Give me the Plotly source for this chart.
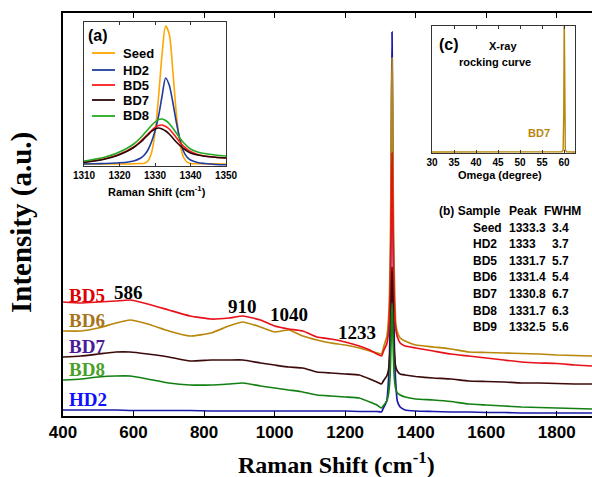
import plotly.graph_objects as go

# ---------------- data ----------------
raman_shift = [400, 450, 500, 550, 590, 640, 700, 760, 820, 870, 910, 960, 1000, 1040, 1080,
               1120, 1160, 1200, 1240, 1270, 1290,
               1303, 1310, 1318, 1323, 1326, 1328, 1330, 1331.5, 1333, 1334.5, 1336, 1338, 1340,
               1343, 1348, 1356, 1370,
               1400, 1450, 1500, 1550, 1600, 1650, 1700, 1750, 1800, 1850, 1900]

hd2 = [6, 6, 6, 6, 5.5, 5.5, 5.5, 5.5, 5, 5, 5, 5, 5, 5, 5, 5, 5, 5, 4.5, 4.5, 4.5,
       4, 9, 15, 36, 63, 105, 194, 308, 384, 308, 194, 105, 63, 36, 15, 9, 6,
       5, 4.5, 4, 4, 3.5, 3.5, 3, 3, 3, 3, 3]
bd6 = [85, 85, 88, 93, 96, 92, 85, 80, 83, 90, 94, 89, 84, 86, 80, 76, 73, 71, 68, 65, 63,
       62, 70, 79, 97, 124, 163, 234, 313, 358, 314, 237, 167, 130, 95, 84, 78, 75,
       71, 69, 67, 64, 63.5, 63, 62.5, 62, 61, 60.5, 60]
bd5 = [114, 113, 114, 115, 116, 112, 106, 100, 97, 98, 100, 96, 90, 87, 85, 79, 77, 74, 70, 66, 62,
       60, 66, 72, 84, 103, 130, 178, 232, 263, 233, 181, 134, 106, 88, 79, 73, 70,
       68, 65, 62, 60, 58, 56, 54, 53, 52.5, 51, 50]
bd7 = [59, 60, 62, 64, 64, 62, 59, 55, 56, 56, 56, 53, 51, 49, 48, 44, 43, 42, 41, 37, 34,
       32, 36, 40, 46, 58, 72, 100, 131, 149, 131, 102, 74, 61, 50, 45, 42, 41,
       39.5, 38, 37, 35, 34.5, 34, 33, 33, 32.5, 32, 32]
bd8 = [36, 37, 39, 40, 40, 37, 33, 31, 31, 32, 33, 30, 28, 26, 24, 21, 20, 19, 18, 14, 11,
       8, 11, 15, 22, 32, 45, 71, 98, 113, 99, 73, 48, 36, 28, 23, 21, 19,
       17, 16, 14.5, 12, 11, 10, 9, 8.5, 8, 7.5, 7]

main_names = ["HD2", "BD6", "BD5", "BD7", "BD8"]
main_series = [hd2, bd6, bd5, bd7, bd8]
main_colors = ["#1a1aa8", "#b8860b", "#e8101a", "#3c0a0a", "#138013"]

side_labels = ["BD5", "BD6", "BD7", "BD8", "HD2"]
side_label_colors = ["#e00000", "#a8741a", "#4b1c99", "#4aa02a", "#1010ff"]
peak_labels = [586, 910, 1040, 1233]

# inset (a)
inset_shift = [1310, 1313, 1316, 1319, 1322, 1324, 1326, 1327, 1328, 1329, 1330, 1331, 1332,
               1333, 1334, 1335, 1336, 1337, 1338, 1339, 1340, 1342, 1344, 1347, 1350]
seed_a = [2, 2, 2, 2, 2, 2.2, 2.5, 2.8, 5, 13, 33, 69, 112, 140, 132, 96, 53, 23, 9, 4, 2.5,
          2.3, 2.2, 2.1, 2]
hd2_a = [2, 2.2, 2.5, 3, 3.8, 5, 8, 11, 16, 24, 35, 50, 70, 88, 81, 64, 44, 27, 15, 9, 6,
         3.5, 2.5, 1.5, 1.2]
bd5_a = [4, 5.5, 7.5, 10.5, 15, 19, 25, 28.5, 32, 35.5, 38.5, 40.5, 41, 39.5, 37, 33, 28.5,
         24, 20, 17, 14.5, 11.5, 10, 8.8, 8]
bd7_a = [3.5, 5, 7, 10, 14.5, 18.5, 24, 27.5, 31, 34.5, 37, 38, 37, 35, 32, 28, 24, 20.5,
         17.5, 15, 13, 11, 9.8, 8.7, 8]
bd8_a = [5, 6.8, 9, 12.5, 17.5, 22, 28.5, 32.5, 36.5, 40.5, 44, 46.5, 47, 45.5, 42.5, 38, 33,
         28, 23.5, 20, 17, 14, 12.5, 11, 10]
inset_names = ["Seed", "HD2", "BD5", "BD7", "BD8"]
inset_series = [seed_a, hd2_a, bd5_a, bd7_a, bd8_a]
inset_colors = ["#ffa500", "#1f3d9e", "#ff1a1a", "#2b0808", "#22aa22"]
inset_ticks = [1310, 1320, 1330, 1340, 1350]

# inset (c)
omega = [30, 35, 40, 45, 50, 55, 59.5, 59.8, 59.95, 60.05, 60.15, 60.3, 60.6, 62.5]
rocking_bd7 = [1, 1, 1, 1, 1, 1, 1.2, 3, 40, 140, 40, 3, 1.2, 1]
omega_ticks = [30, 35, 40, 45, 50, 55, 60]

# table (b)
table_samples = ["Seed", "HD2", "BD5", "BD6", "BD7", "BD8", "BD9"]
table_peak = ["1333.3", "1333", "1331.7", "1331.4", "1330.8", "1331.7", "1332.5"]
table_fwhm = ["3.4", "3.7", "5.7", "5.4", "6.7", "6.3", "5.6"]

# ---------------- layout helpers ----------------
W, H = 592, 477
L, R, T, B = 63, 0, 13, 61
PW, PH = W - L - R, H - T - B


def px(xp):
    return (xp - L) / PW


def py(yp):
    return (H - B - yp) / PH


SANS = "Liberation Sans, Arial, sans-serif"
SERIF = "Liberation Serif, Times New Roman, serif"

fig = go.Figure()

for name, ys, col in zip(main_names, main_series, main_colors):
    fig.add_trace(go.Scatter(x=raman_shift, y=ys, mode="lines", name=name,
                             line=dict(color=col, width=1.7, shape="spline", smoothing=0.4),
                             showlegend=False, xaxis="x", yaxis="y"))

for name, ys, col in zip(inset_names, inset_series, inset_colors):
    fig.add_trace(go.Scatter(x=inset_shift, y=ys, mode="lines", name=name,
                             line=dict(color=col, width=1.6, shape="spline", smoothing=0.8),
                             showlegend=False, xaxis="x2", yaxis="y2"))

fig.add_trace(go.Scatter(x=omega, y=rocking_bd7, mode="lines", name="BD7",
                         line=dict(color="#b8860b", width=1.4),
                         showlegend=False, xaxis="x3", yaxis="y3"))

annotations = []
shapes = []

# left side sample labels
side_y = [295, 320, 346, 369, 399]
for txt, col, yp in zip(side_labels, side_label_colors, side_y):
    annotations.append(dict(text=txt, xref="paper", yref="paper", x=px(67), y=py(yp),
                            xanchor="left", yanchor="middle", showarrow=False,
                            font=dict(family=SERIF, size=19, color=col, weight="bold")))

# peak labels
peak_y = [292, 306, 314, 332]
for val, yp in zip(peak_labels, peak_y):
    annotations.append(dict(text=str(val), xref="x", yref="paper", x=val, y=py(yp),
                            xanchor="center", yanchor="middle", showarrow=False,
                            font=dict(family=SERIF, size=19, color="black", weight="bold")))

# axis titles
annotations.append(dict(text="Raman Shift (cm<sup>-1</sup>)", xref="paper", yref="paper",
                        x=px(336), y=py(463), xanchor="center", yanchor="middle",
                        showarrow=False,
                        font=dict(family=SERIF, size=24, color="black", weight="bold")))
annotations.append(dict(text="Intensity (a.u.)", xref="paper", yref="paper",
                        x=px(21), y=py(223), xanchor="center", yanchor="middle",
                        textangle=-90, showarrow=False,
                        font=dict(family=SERIF, size=29, color="black", weight="bold")))

# inset (a) texts and legend
annotations.append(dict(text="(a)", xref="paper", yref="paper", x=px(86), y=py(36),
                        xanchor="left", yanchor="middle", showarrow=False,
                        font=dict(family=SANS, size=16, color="black", weight="bold")))
leg_y = [53, 70, 85, 100, 116]
for name, col, yp in zip(inset_names, inset_colors, leg_y):
    shapes.append(dict(type="line", xref="paper", yref="paper", x0=px(92), x1=px(115),
                       y0=py(yp), y1=py(yp), line=dict(color=col, width=1.8)))
    annotations.append(dict(text=name, xref="paper", yref="paper", x=px(121), y=py(yp),
                            xanchor="left", yanchor="middle", showarrow=False,
                            font=dict(family=SANS, size=13, color="black", weight="bold")))
annotations.append(dict(text="Raman Shift (cm<sup>-1</sup>)", xref="paper", yref="paper",
                        x=px(157), y=py(191), xanchor="center", yanchor="middle",
                        showarrow=False,
                        font=dict(family=SANS, size=11, color="black", weight="bold")))

# inset (c) texts
annotations.append(dict(text="(c)", xref="paper", yref="paper", x=px(437), y=py(45),
                        xanchor="left", yanchor="middle", showarrow=False,
                        font=dict(family=SANS, size=16, color="black", weight="bold")))
annotations.append(dict(text="X-ray", xref="paper", yref="paper", x=px(503), y=py(46),
                        xanchor="center", yanchor="middle", showarrow=False,
                        font=dict(family=SANS, size=11, color="black", weight="bold")))
annotations.append(dict(text="rocking curve", xref="paper", yref="paper", x=px(495), y=py(62),
                        xanchor="center", yanchor="middle", showarrow=False,
                        font=dict(family=SANS, size=11, color="black", weight="bold")))
annotations.append(dict(text="BD7", xref="paper", yref="paper", x=px(539), y=py(133),
                        xanchor="center", yanchor="middle", showarrow=False,
                        font=dict(family=SANS, size=11, color="#b8860b", weight="bold")))
annotations.append(dict(text="Omega (degree)", xref="paper", yref="paper", x=px(500), y=py(175),
                        xanchor="center", yanchor="middle", showarrow=False,
                        font=dict(family=SANS, size=11, color="black", weight="bold")))

# table (b)
tfont = dict(family=SANS, size=12, color="black", weight="bold")
for txt, xp in [("(b) Sample", 437), ("Peak", 507), ("FWHM", 542)]:
    annotations.append(dict(text=txt, xref="paper", yref="paper", x=px(xp), y=py(211),
                            xanchor="left", yanchor="middle", showarrow=False, font=tfont))
row_y0, row_dy = 227.5, 16.6
for i, (s, p, f) in enumerate(zip(table_samples, table_peak, table_fwhm)):
    yp = row_y0 + i * row_dy
    for txt, xp in [(s, 471), (p, 507), (f, 550)]:
        annotations.append(dict(text=txt, xref="paper", yref="paper", x=px(xp), y=py(yp),
                                xanchor="left", yanchor="middle", showarrow=False, font=tfont))

# domains for insets
xa_dom = [px(84), px(226)]
ya_dom = [py(166), py(22)]
xc_dom = [px(432), px(575)]
yc_dom = [py(153), py(26)]

fig.update_layout(
    width=W, height=H, autosize=False,
    margin=dict(l=L, r=R, t=T, b=B, pad=0, autoexpand=False),
    paper_bgcolor="white", plot_bgcolor="white",
    showlegend=False,
    xaxis=dict(domain=[0, 1], range=[400, 1900], tickvals=[400, 600, 800, 1000, 1200, 1400, 1600, 1800],
               ticks="inside", ticklen=5, tickwidth=1.2, tickcolor="black",
               showline=True, linecolor="black", linewidth=1.6, mirror="ticks",
               showgrid=False, zeroline=False, automargin=False,
               tickfont=dict(family=SANS, size=17, color="black", weight="bold")),
    yaxis=dict(domain=[0, 1], range=[0, PH], showticklabels=False, ticks="",
               showline=True, linecolor="black", linewidth=1.6, mirror=False,
               showgrid=False, zeroline=False, automargin=False),
    xaxis2=dict(domain=xa_dom, anchor="y2", range=[1310, 1350], tickvals=inset_ticks,
                ticks="inside", ticklen=3, tickcolor="#333",
                showline=True, linecolor="#333", linewidth=1, mirror="ticks",
                showgrid=False, zeroline=False, automargin=False,
                tickfont=dict(family=SANS, size=10, color="black", weight="bold")),
    yaxis2=dict(domain=ya_dom, anchor="x2", range=[0, 144], showticklabels=False, ticks="",
                showline=True, linecolor="#333", linewidth=1, mirror=True,
                showgrid=False, zeroline=False, automargin=False),
    xaxis3=dict(domain=xc_dom, anchor="y3", range=[30, 62.5], tickvals=omega_ticks,
                ticks="inside", ticklen=3, tickcolor="#333",
                showline=True, linecolor="#333", linewidth=1, mirror="ticks",
                showgrid=False, zeroline=False, automargin=False,
                tickfont=dict(family=SANS, size=10, color="black", weight="bold")),
    yaxis3=dict(domain=yc_dom, anchor="x3", range=[0, 127], showticklabels=False, ticks="",
                showline=True, linecolor="#333", linewidth=1, mirror=True,
                showgrid=False, zeroline=False, automargin=False),
    annotations=annotations,
    shapes=shapes,
)

fig.write_html("out.html", config={"displayModeBar": False},
               post_script="document.body.style.margin='0';document.body.style.overflow='hidden';")
